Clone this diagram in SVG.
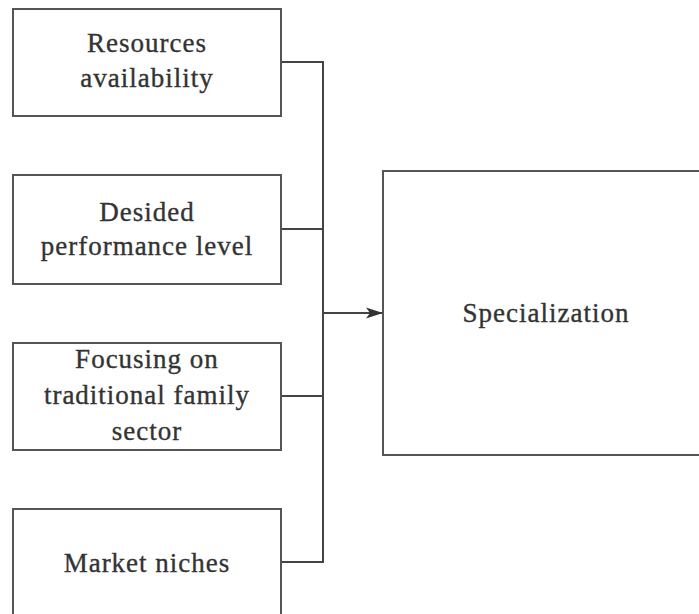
<svg xmlns="http://www.w3.org/2000/svg" width="699" height="614" viewBox="0 0 699 614">
  <style>
    .box { fill: #ffffff; stroke: #555555; stroke-width: 2; }
    .wire { fill: none; stroke: #444444; stroke-width: 2; }
    .label { font-family: "Liberation Serif", "Times New Roman", serif; font-size: 27px; fill: #333333; stroke: #333333; stroke-width: 0.35; text-anchor: middle; letter-spacing: 1px; }
  </style>
  <defs>
    <marker id="arrow" markerUnits="userSpaceOnUse" markerWidth="18" markerHeight="12" refX="17" refY="6" orient="auto">
      <path d="M0,0.5 L17,6 L0,11.5 L4,6 Z" fill="#333333"/>
    </marker>
  </defs>
  <rect width="699" height="614" fill="#ffffff"/>

  <g id="connectors">
    <path class="wire" d="M281,62 H323 V562 H281"/>
    <path class="wire" d="M281,229 H323"/>
    <path class="wire" d="M281,396 H323"/>
    <path class="wire" d="M323,313 H383" marker-end="url(#arrow)"/>
  </g>

  <g id="resources-availability">
    <rect class="box" x="13" y="9" width="268" height="107"/>
    <text class="label" x="147" y="52">Resources</text>
    <text class="label" x="147" y="87">availability</text>
  </g>

  <g id="desired-performance-level">
    <rect class="box" x="13" y="175" width="268" height="109"/>
    <text class="label" x="147" y="221">Desided</text>
    <text class="label" x="147" y="255">performance level</text>
  </g>

  <g id="traditional-family-sector">
    <rect class="box" x="13" y="343" width="268" height="107"/>
    <text class="label" x="147" y="368">Focusing on</text>
    <text class="label" x="147" y="404">traditional family</text>
    <text class="label" x="147" y="440">sector</text>
  </g>

  <g id="market-niches">
    <rect class="box" x="13" y="509" width="268" height="115"/>
    <text class="label" x="147" y="572">Market niches</text>
  </g>

  <g id="specialization">
    <rect class="box" x="383" y="171" width="330" height="284"/>
    <text class="label" x="546" y="322">Specialization</text>
  </g>
</svg>
